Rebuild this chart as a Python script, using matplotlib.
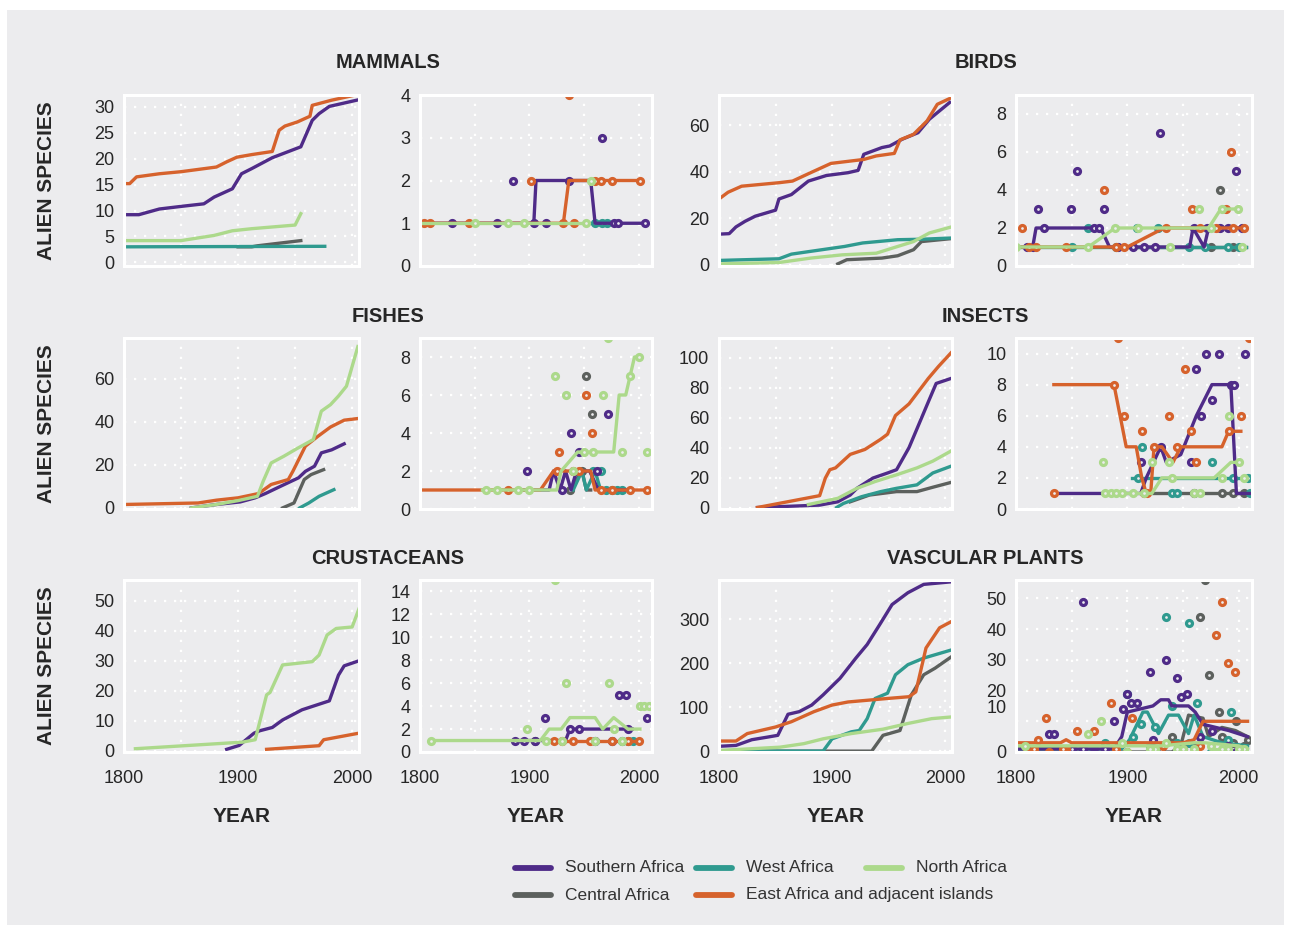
import matplotlib
matplotlib.use("Agg")
import matplotlib.pyplot as plt
from matplotlib.lines import Line2D
from matplotlib.patches import Rectangle

plt.rcParams['font.family'] = ['Liberation Sans', 'DejaVu Sans']

W, H = 1291, 931
BG = '#ececee'
TXT = '#262626'

regions = ['Southern Africa', 'West Africa', 'North Africa', 'Central Africa',
           'East Africa and adjacent islands']
colors = {'Southern Africa': '#4f2b88', 'West Africa': '#2f9a8f',
          'North Africa': '#acd98b', 'Central Africa': '#5c605d',
          'East Africa and adjacent islands': '#d6622c'}
draw_order = ['Central Africa', 'West Africa', 'Southern Africa',
              'East Africa and adjacent islands', 'North Africa']
SA, WA, NA, CA, EA = regions

groups = ['MAMMALS', 'BIRDS', 'FISHES', 'INSECTS', 'CRUSTACEANS', 'VASCULAR PLANTS']

# ---- cumulative numbers of alien species (left panels) ----
mammals_cum = {
    EA: ([1800, 1805, 1811, 1831, 1850, 1881, 1890, 1899, 1912, 1930, 1936, 1941, 1952, 1963, 1965, 1982, 2003],
         [15.2, 15.2, 16.5, 17.1, 17.5, 18.4, 19.4, 20.3, 20.8, 21.4, 25.5, 26.3, 27.1, 28.2, 30.3, 31.3, 32.3]),
    SA: ([1800, 1813, 1831, 1850, 1870, 1879, 1895, 1903, 1912, 1930, 1955, 1965, 1971, 1980, 2006],
         [9.2, 9.2, 10.3, 10.8, 11.3, 12.6, 14.2, 17.1, 18.1, 20.2, 22.3, 27.4, 28.7, 30.1, 31.4]),
    NA: ([1800, 1850, 1879, 1895, 1912, 1950, 1955],
         [4.2, 4.2, 5.2, 6.1, 6.5, 7.2, 9.4]),
    CA: ([1900, 1912, 1917, 1955], [3.0, 3.0, 3.2, 4.2]),
    WA: ([1800, 1976], [3.0, 3.1]),
}
birds_cum = {
    EA: ([1800, 1808, 1820, 1853, 1865, 1881, 1899, 1928, 1939, 1955, 1960, 1972, 1984, 1993, 2004],
         [28.3, 31.2, 33.8, 35.3, 36.0, 39.6, 43.6, 45.3, 46.8, 47.9, 53.7, 56.1, 61.9, 69.0, 71.5]),
    SA: ([1800, 1809, 1815, 1823, 1832, 1850, 1853, 1864, 1879, 1895, 1914, 1923, 1928, 1944, 1951, 1962, 1976, 1986, 2004],
         [13.2, 13.4, 16.3, 18.7, 20.9, 23.5, 28.3, 30.2, 36.0, 38.4, 39.6, 40.6, 47.5, 50.4, 51.1, 54.0, 56.8, 62.6, 69.8]),
    WA: ([1800, 1853, 1864, 1881, 1911, 1927, 1958, 1979, 2004],
         [1.9, 2.6, 4.6, 5.8, 7.9, 9.4, 10.8, 11.0, 11.5]),
    NA: ([1800, 1853, 1881, 1909, 1939, 1958, 1972, 1986, 2004],
         [0.4, 1.0, 2.9, 4.3, 5.0, 7.9, 10.0, 13.7, 16.1]),
    CA: ([1905, 1913, 1944, 1958, 1972, 1979, 2004],
         [0.4, 2.2, 2.9, 3.9, 6.5, 10.0, 11.2]),
}
fishes_cum = {
    EA: ([1800, 1865, 1881, 1900, 1918, 1929, 1944, 1948, 1959, 1970, 1981, 1993, 2004],
         [1.6, 2.3, 3.6, 4.7, 6.7, 10.9, 13.2, 17.0, 28.7, 33.3, 37.6, 40.8, 41.5]),
    SA: ([1859, 1881, 1902, 1915, 1924, 1937, 1953, 1959, 1967, 1973, 1982, 1993],
         [0, 1.6, 2.8, 4.7, 6.7, 10.0, 14.0, 17.0, 19.4, 25.6, 27.0, 29.8]),
    NA: ([1859, 1881, 1900, 1917, 1922, 1929, 1940, 1951, 1966, 1973, 1981, 1988, 1995, 2005],
         [0, 1.6, 3.4, 5.4, 12.4, 20.9, 24.0, 27.4, 31.8, 45.0, 48.0, 52.0, 56.6, 75.0]),
    CA: ([1939, 1949, 1958, 1964, 1975], [0, 2.3, 13.2, 15.5, 17.8]),
    WA: ([1954, 1962, 1971, 1984], [0, 2.3, 5.4, 8.5]),
}
insects_cum = {
    EA: ([1834, 1889, 1894, 1898, 1903, 1916, 1929, 1943, 1949, 1956, 1968, 1985, 1994, 2005],
         [0, 7.9, 19.6, 25.2, 26.4, 35.4, 38.7, 45.5, 48.9, 61.3, 69.1, 86.0, 94.0, 103.0]),
    SA: ([1834, 1889, 1905, 1916, 1922, 1936, 1949, 1957, 1968, 1985, 1992, 2005],
         [0, 1.6, 3.8, 8.3, 12.8, 19.6, 23.0, 25.2, 39.9, 70.3, 82.7, 86.0]),
    NA: ([1879, 1905, 1922, 1938, 1957, 1975, 1989, 2005],
         [2.0, 6.1, 12.8, 17.3, 21.8, 26.4, 30.9, 37.6]),
    WA: ([1904, 1910, 1926, 1943, 1957, 1975, 1989, 2005],
         [0, 2.7, 7.2, 10.6, 12.8, 15.1, 23.0, 27.5]),
    CA: ([1916, 1933, 1957, 1975, 1989, 2005], [3.8, 8.3, 10.6, 10.6, 13.5, 16.7]),
}
crustaceans_cum = {
    NA: ([1810, 1904, 1915, 1925, 1928, 1939, 1965, 1971, 1978, 1986, 2000, 2006],
         [0.6, 2.8, 3.6, 18.6, 19.4, 28.6, 29.7, 31.9, 38.6, 40.8, 41.3, 47.4]),
    SA: ([1890, 1901, 1914, 1919, 1930, 1939, 1956, 1980, 1988, 1993, 2006],
         [0.4, 1.7, 5.8, 6.6, 7.7, 10.2, 13.6, 16.6, 25.2, 28.3, 30.0]),
    EA: ([1925, 1971, 1975, 2006], [0.4, 1.6, 3.6, 5.8]),
}
plants_cum = {
    SA: ([1800, 1815, 1829, 1843, 1852, 1861, 1871, 1882, 1892, 1907, 1921, 1931, 1942, 1953, 1967, 1981, 2006],
         [11, 13, 26, 32, 36, 84, 90, 105, 128, 166, 212, 243, 288, 334, 361, 380, 386]),
    EA: ([1800, 1815, 1825, 1850, 1864, 1884, 1900, 1914, 1949, 1968, 1974, 1983, 1995, 2006],
         [23, 23, 40, 55, 67, 90, 105, 112, 120, 124, 135, 235, 281, 296]),
    WA: ([1800, 1892, 1900, 1917, 1924, 1931, 1938, 1949, 1956, 1967, 1981, 2006],
         [0, 0, 28, 44, 47, 74, 120, 132, 174, 197, 212, 231]),
    CA: ([1800, 1935, 1945, 1960, 1970, 1981, 1991, 2006],
         [0, 0, 36, 47, 128, 174, 189, 216]),
    NA: ([1800, 1854, 1875, 1892, 1917, 1945, 1967, 1988, 2006],
         [1.5, 9, 17, 28, 40, 50, 63, 74, 78]),
}

# ---- species first recorded per year (right panels): trend line + points ----
mammals_line = {
    SA: ([1800, 1904, 1906, 1956, 1960, 2006], [1, 1, 2, 2, 1, 1]),
    EA: ([1800, 1931, 1936, 2001], [1, 1, 2, 2]),
    NA: ([1800, 1953], [1, 1]),
    WA: ([1953, 1981], [1, 1]),
}
mammals_pts = {
    SA: ([1829, 1870, 1904, 1915, 1936, 1977, 1981, 2006, 1885, 1966],
         [1, 1, 1, 1, 2, 1, 1, 1, 2, 3]),
    EA: ([1804, 1809, 1845, 1931, 1941, 1901, 1960, 1965, 1975, 2001, 1936],
         [1, 1, 1, 1, 1, 2, 2, 2, 2, 2, 4]),
    NA: ([1850, 1880, 1895, 1952, 1956], [1, 1, 1, 1, 2]),
    WA: ([1960, 1966, 1971], [1, 1, 1]),
}
birds_line = {
    SA: ([1800, 1815, 1818, 1876, 1884, 1956, 1959, 1969, 1973, 2007], [1, 1, 2, 2, 1, 1, 2, 1, 2, 2]),
    EA: ([1800, 1900, 1933, 2007], [1, 1, 2, 2]),
    NA: ([1800, 1865, 1889, 1973, 1984, 2000], [1, 1, 2, 2, 3, 3]),
    WA: ([1800, 2007], [1, 1]),
    CA: ([1900, 2007], [1, 1]),
}
birds_pts = {
    SA: ([1810, 1815, 1820, 1849, 1855, 1879, 1929, 1998, 1825, 1870, 1875, 1892, 1905, 1915, 1925, 1960, 1972, 1983, 1990, 2003],
         [1, 1, 3, 3, 5, 3, 7, 5, 2, 2, 2, 1, 1, 1, 1, 2, 2, 2, 2, 2]),
    EA: ([1805, 1812, 1818, 1879, 1845, 1890, 1897, 1958, 1993, 1989, 1935, 1965, 1980, 1995, 2005],
         [2, 1, 1, 4, 1, 1, 1, 3, 6, 3, 2, 2, 2, 2, 2]),
    NA: ([1800, 1865, 1889, 1964, 1999, 1938, 1910, 1975, 1985, 2003], [1, 1, 2, 3, 3, 1, 2, 2, 3, 1]),
    WA: ([1865, 1909, 1928, 1850, 1890, 1955, 1970, 1990, 2000], [2, 2, 2, 1, 1, 1, 1, 1, 1]),
    CA: ([1983, 1975, 1995], [4, 1, 1]),
}
fishes_line = {
    EA: ([1800, 1910, 1922, 1956, 1960, 2005], [1, 1, 2, 2, 1, 1]),
    SA: ([1895, 1918, 1922, 1928, 1933, 1938, 1943, 1948, 1955, 1963, 1990], [1, 1, 2, 1, 2, 1, 2, 2, 2, 1, 1]),
    WA: ([1940, 1948, 1952, 1960, 1965, 1990], [1, 2, 1, 2, 1, 1]),
    CA: ([1930, 1937, 1948, 1952, 1956], [1, 1, 2, 1, 1]),
    NA: ([1857, 1925, 1929, 1944, 1977, 1982, 1988, 1992, 1996, 2001], [1, 1, 2, 3, 3, 6, 6, 7, 8, 8]),
}
fishes_pts = {
    NA: ([1923, 1933, 1967, 1972, 2007, 1860, 1870, 1890, 1900, 1985, 1992, 2000, 1940, 1950, 1958],
         [7, 6, 6, 9, 3, 1, 1, 1, 1, 3, 7, 8, 2, 3, 3]),
    EA: ([1952, 1957, 1927, 2007, 1992, 1880, 1925, 1940, 1945, 1965, 1975], [6, 4, 3, 1, 1, 1, 2, 2, 2, 1, 1]),
    SA: ([1898, 1938, 1972, 1945, 1962, 1930], [2, 4, 5, 3, 2, 1]),
    CA: ([1952, 1957, 1937, 1948], [7, 5, 1, 2]),
    WA: ([1965, 1970, 1975, 1980, 1985, 1958], [2, 1, 1, 1, 1, 2]),
}
insects_line = {
    EA: ([1834, 1888, 1899, 1908, 1913, 1917, 1921, 1924, 1931, 1941, 1948, 1985, 1991, 2002],
         [8, 8, 4, 4, 2, 1, 1, 4, 4, 3, 4, 4, 5, 5]),
    SA: ([1834, 1912, 1917, 1930, 1935, 1948, 1962, 1976, 1993, 1998, 2010],
         [1, 1, 2, 4, 3, 3.5, 6, 8, 8, 1, 1]),
    NA: ([1879, 1922, 1931, 1978, 1993, 2002], [1, 1, 2, 2, 3, 3]),
    WA: ([1904, 2010], [2, 2]),
    CA: ([1912, 2010], [1, 1]),
}
insects_pts = {
    EA: ([1834, 1888, 1892, 2009, 1952, 1897, 1937, 2002, 1913, 1957, 1962, 1991, 1924, 1945, 1915, 1918],
         [1, 8, 11, 11, 9, 6, 6, 6, 5, 5, 3, 5, 4, 4, 1, 1]),
    SA: ([1971, 1982, 2006, 1962, 1976, 1966, 1912, 1957, 1930, 1993, 1996], [10, 10, 10, 9, 7, 6, 3, 3, 4, 8, 8]),
    NA: ([1878, 1922, 1937, 1991, 1880, 1885, 1890, 1895, 1905, 1915, 1940, 1960, 1965, 1985, 2000, 2005],
         [3, 3, 3, 6, 1, 1, 1, 1, 1, 1, 2, 1, 1, 2, 3, 2]),
    WA: ([1976, 1913, 1940, 1945, 1995, 2008, 2010, 1910], [3, 4, 1, 1, 2, 2, 1, 2]),
    CA: ([1960, 1985, 1995, 2005], [1, 1, 1, 1]),
}
crustaceans_line = {
    SA: ([1887, 1933, 1937, 1994], [1, 1, 2, 2]),
    EA: ([1922, 2001], [1, 1]),
    WA: ([1985, 2000], [1, 1]),
    NA: ([1810, 1910, 1918, 1929, 1937, 1960, 1967, 1977, 1990, 2001], [1, 1, 2, 2, 3, 3, 2, 3, 2, 2]),
}
crustaceans_pts = {
    NA: ([1923, 1933, 1973, 2001, 2005, 2009, 1898, 1810, 1915, 1960, 1977, 1930, 1985], [15, 6, 6, 4, 4, 4, 2, 1, 1, 1, 2, 1, 1]),
    SA: ([1982, 1988, 1914, 2007, 1887, 1895, 1905, 1937, 1945, 1960, 1975, 1990], [5, 5, 3, 3, 1, 1, 1, 2, 2, 1, 1, 2]),
    EA: ([1922, 1940, 1955, 1975, 1990, 2000, 1930], [1, 1, 1, 1, 1, 1, 1]),
    WA: ([1985, 1995], [1, 1]),
    CA: ([1905, 1990], [1, 1]),
}
plants_line = {
    SA: ([1800, 1888, 1895, 1900, 1923, 1930, 1937, 1940, 1955, 1961, 1968, 1991, 2008],
         [1, 1, 5, 13, 15, 17, 17, 15, 15, 13, 9, 7, 5]),
    WA: ([1800, 1895, 1902, 1914, 1918, 1928, 1937, 1946, 1955, 1960, 1968, 1985, 2008],
         [1, 1, 4, 13, 13, 6, 12, 12, 6, 12, 5, 3, 2]),
    CA: ([1800, 1940, 1948, 1955, 1968, 1973, 1985, 1997, 2008], [0, 0, 2, 12, 11, 5, 8, 7, 5]),
    EA: ([1800, 1840, 1845, 1850, 1940, 1950, 1960, 1968, 2008], [3, 3, 4, 3, 3, 3, 4, 10, 10]),
    NA: ([1800, 1880, 1900, 1930, 1960, 1970, 2000, 2008], [2, 2, 2, 2, 3, 3, 2, 1]),
}
plants_pts = {
    SA: ([1860, 1935, 1920, 1945, 1948, 1954, 1900, 1896, 1903, 1909, 1888, 1830, 1834, 1923, 1965, 1976, 1990, 1998,
          1870, 1850, 1812, 1860, 1880, 2000],
         [49, 30, 26, 24, 18, 19, 19, 14, 16, 16, 10, 6, 6, 4, 5, 7, 2, 0, 0, 1, 0, 1, 1, 1]),
    WA: ([1935, 1955, 1900, 1940, 1912, 1925, 1963, 1993, 1880, 1920, 1955, 1990, 1850, 1860, 1975, 1870, 1905, 1945, 2005],
         [44, 42, 19, 15, 9, 8, 16, 13, 3, 2, 3, 4, 0, 0, 0, 1, 5, 3, 1]),
    CA: ([1970, 1965, 1973, 1982, 1998, 1940, 1960, 1995, 2005, 1920, 1930, 1950, 1985, 2008],
         [56, 44, 25, 13, 10, 5, 2, 3, 2, 0, 1, 1, 5, 4]),
    EA: ([1985, 1980, 1990, 1997, 1885, 1904, 1827, 1855, 1870, 1820, 1845, 1900, 1920, 1950, 1965, 1810, 1830,
          1816, 1842, 1890, 1932, 2002],
         [49, 38, 29, 26, 16, 11, 11, 7, 7, 4, 1, 0, 0, 1, 2, 0, 0, 1, 1, 1, 2, 1]),
    NA: ([1876, 1865, 1900, 1895, 1925, 1945, 1960, 1985, 2005, 1980, 1990, 1808, 1920, 1935, 1950, 1975, 2000],
         [10, 6, 0, 3, 1, 1, 1, 1, 1, 0, 1, 2, 1, 3, 1, 2, 1]),
}

cum_data = [mammals_cum, birds_cum, fishes_cum, insects_cum, crustaceans_cum, plants_cum]
line_data = [mammals_line, birds_line, fishes_line, insects_line, crustaceans_line, plants_line]
pts_data = [mammals_pts, birds_pts, fishes_pts, insects_pts, crustaceans_pts, plants_pts]
cum_ylim = [(-0.7, 32.3), (-0.5, 73), (-0.5, 79), (-1, 113), (-0.5, 57), (-2, 390)]
cum_yticks = [range(0, 31, 5), range(0, 61, 20), range(0, 61, 20), range(0, 101, 20),
              range(0, 51, 10), range(0, 301, 100)]
rate_ylim = [(0, 4), (0, 9), (0, 9), (0, 11), (0, 15), (0, 56)]
rate_yticks = [range(0, 5), range(0, 9, 2), range(0, 9, 2), range(0, 11, 2), range(0, 15, 2), range(0, 51, 10)]

# ---- layout (pixels) ----
col_x = [(124, 359), (420, 652), (719, 952), (1016, 1252)]
row_y = [(95, 266), (338, 509), (580, 752)]
title_y = [63, 316, 558]

fig = plt.figure(figsize=(W / 100, H / 100), dpi=100, facecolor='white')
fig.patches.append(Rectangle((7 / W, 1 - 925 / H), 1277 / W, 915 / H,
                             transform=fig.transFigure, facecolor=BG, edgecolor='none', zorder=-10))


def px_axes(x0, x1, y0, y1):
    return fig.add_axes([x0 / W, 1 - y1 / H, (x1 - x0) / W, (y1 - y0) / H])


def style(ax, xlim, ylim, yticks, bottom):
    ax.set_facecolor(BG)
    for s in ax.spines.values():
        s.set_color('white')
        s.set_linewidth(2.2)
    ax.set_xlim(*xlim)
    ax.set_ylim(*ylim)
    ax.set_xticks(range(1800, 2001, 50))
    ax.set_xticklabels(['1800', '', '1900', '', '2000'] if bottom else [''] * 5)
    ax.set_yticks(list(yticks))
    ax.grid(True, color='white', linestyle=(0, (1, 3.5)), linewidth=1.6)
    ax.set_axisbelow(True)
    ax.tick_params(length=0, labelsize=13, labelcolor=TXT)
    ax.tick_params(axis='x', pad=13)
    ax.tick_params(axis='y', pad=7)


for i, grp in enumerate(groups):
    r, c = divmod(i, 2)
    y0, y1 = row_y[r]
    bottom = r == 2

    # left: cumulative
    axl = px_axes(*col_x[2 * c], y0, y1)
    style(axl, (1800, 2006), cum_ylim[i], cum_yticks[i], bottom)
    for reg in draw_order:
        if reg in cum_data[i]:
            yrs, vals = cum_data[i][reg]
            axl.plot(yrs, vals, color=colors[reg], lw=2.4, solid_joinstyle='round')

    # right: new records per year
    axr = px_axes(*col_x[2 * c + 1], y0, y1)
    style(axr, (1800, 2012), rate_ylim[i], rate_yticks[i], bottom)
    for reg in draw_order:
        if reg in line_data[i]:
            yrs, vals = line_data[i][reg]
            axr.plot(yrs, vals, color=colors[reg], lw=2.4, solid_joinstyle='round')
        if reg in pts_data[i]:
            yrs, vals = pts_data[i][reg]
            axr.plot(yrs, vals, 'o', ms=4.3, mfc=BG, mec=colors[reg], mew=2.3, ls='none')

    if grp == 'VASCULAR PLANTS':
        # the "10" label sits above its grid line in the original
        labs = [str(t) for t in rate_yticks[i]]
        labs[1] = ''
        axr.set_yticklabels(labs)
        axr.annotate('10', xy=(0, 10), xycoords=('axes fraction', 'data'),
                     xytext=(-9, 13), textcoords='offset pixels',
                     ha='right', va='center', fontsize=13, color=TXT)

    # group title, centred over the two panels
    cx = (col_x[2 * c][0] + col_x[2 * c + 1][1]) / 2
    fig.text(cx / W, 1 - title_y[r] / H, grp, ha='center', va='center',
             fontsize=14.5, fontweight='bold', color=TXT)

    if c == 0:
        fig.text(47 / W, 1 - (y0 + y1) / 2 / H, 'ALIEN SPECIES', rotation=90,
                 ha='center', va='center', fontsize=15, fontweight='bold', color=TXT)

for x0, x1 in col_x:
    fig.text((x0 + x1) / 2 / W, 1 - 816 / H, 'YEAR', ha='center', va='center',
             fontsize=15, fontweight='bold', color=TXT)

# legend drawn by hand so the long label can run past the third column
leg_pos = {SA: (515, 868), CA: (515, 895), WA: (696, 868), EA: (696, 895), NA: (866, 868)}
for reg, (lx, ly) in leg_pos.items():
    fig.add_artist(Line2D([lx / W, (lx + 36) / W], [1 - ly / H] * 2, color=colors[reg],
                          lw=4.2, solid_capstyle='round', transform=fig.transFigure))
    fig.text((lx + 50) / W, 1 - ly / H, reg, ha='left', va='center', fontsize=12.5, color='#333333')

fig.savefig('out.png', dpi=100, facecolor='white')
